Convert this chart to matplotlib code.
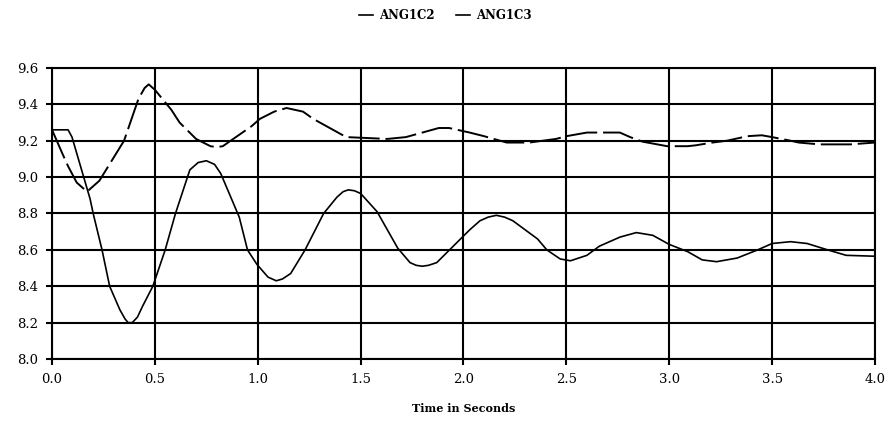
import matplotlib
matplotlib.use("Agg")
import matplotlib.pyplot as plt

# ANG1C2 rotor angle trace (solid)
t_c2 = [0.0, 0.078, 0.097, 0.185, 0.20, 0.243, 0.28, 0.33, 0.355, 0.37, 0.39, 0.415,
        0.44, 0.49, 0.55, 0.60, 0.67, 0.71, 0.75, 0.79, 0.82, 0.88, 0.91, 0.95,
        0.996, 1.05, 1.09, 1.12, 1.16, 1.23, 1.32, 1.385, 1.415, 1.44, 1.47, 1.50,
        1.58, 1.68, 1.74, 1.77, 1.80, 1.83, 1.87, 1.95, 2.03, 2.08, 2.12, 2.16,
        2.20, 2.24, 2.36, 2.405, 2.47, 2.52, 2.60, 2.66, 2.76, 2.84, 2.92, 3.00,
        3.09, 3.16, 3.23, 3.33, 3.43, 3.50, 3.59, 3.67, 3.77, 3.86, 4.0]
ang1c2 = [9.26, 9.26, 9.22, 8.88, 8.80, 8.60, 8.40, 8.27, 8.22, 8.20, 8.20, 8.23,
          8.29, 8.40, 8.60, 8.80, 9.04, 9.08, 9.09, 9.07, 9.02, 8.86, 8.78, 8.60,
          8.52, 8.45, 8.43, 8.44, 8.47, 8.60, 8.80, 8.89, 8.92, 8.93, 8.925, 8.91,
          8.81, 8.61, 8.53, 8.515, 8.51, 8.515, 8.53, 8.62, 8.71, 8.76, 8.78, 8.79,
          8.78, 8.76, 8.66, 8.60, 8.55, 8.54, 8.57, 8.62, 8.67, 8.695, 8.68, 8.63,
          8.59, 8.545, 8.535, 8.555, 8.60, 8.635, 8.645, 8.635, 8.60, 8.57, 8.565]

# ANG1C3 rotor angle trace (dashed)
t_c3 = [0.0, 0.05, 0.078, 0.12, 0.17, 0.23, 0.35, 0.42, 0.45, 0.47, 0.50, 0.58,
        0.62, 0.70, 0.77, 0.80, 0.83, 0.97, 1.01, 1.08, 1.14, 1.22, 1.27, 1.43,
        1.63, 1.72, 1.88, 1.93, 2.03, 2.10, 2.21, 2.32, 2.45, 2.50, 2.60, 2.76,
        2.81, 2.87, 2.99, 3.09, 3.13, 3.21, 3.28, 3.38, 3.45, 3.50, 3.59, 3.63,
        3.73, 3.88, 4.0]
ang1c3 = [9.26, 9.13, 9.06, 8.97, 8.92, 8.98, 9.20, 9.43, 9.49, 9.51, 9.48, 9.37,
          9.30, 9.21, 9.17, 9.165, 9.17, 9.28, 9.32, 9.36, 9.38, 9.36, 9.32, 9.22,
          9.21, 9.22, 9.27, 9.27, 9.245, 9.225, 9.19, 9.19, 9.21, 9.225, 9.245, 9.245,
          9.22, 9.195, 9.17, 9.17, 9.175, 9.19, 9.20, 9.225, 9.23, 9.22, 9.20, 9.19,
          9.18, 9.18, 9.19]

x_ticks = [0.0, 0.5, 1.0, 1.5, 2.0, 2.5, 3.0, 3.5, 4.0]
y_ticks = [8.0, 8.2, 8.4, 8.6, 8.8, 9.0, 9.2, 9.4, 9.6]

plt.rcParams["font.family"] = ["DejaVu Serif"]

fig = plt.figure(figsize=(8.91, 4.22), dpi=100)
ax = fig.add_axes([0.0584, 0.1493, 0.9236, 0.6896])

ax.plot(t_c2, ang1c2, color="black", lw=1.2, label="ANG1C2")
ax.plot(t_c3, ang1c3, color="black", lw=1.4, linestyle=(0, (16, 3)), label="ANG1C3")

ax.set_xlim(0, 4)
ax.set_ylim(8.0, 9.6)
ax.set_xticks(x_ticks)
ax.set_yticks(y_ticks)
ax.set_xticklabels([f"{v:.1f}" for v in x_ticks])
ax.set_yticklabels([f"{v:.1f}" for v in y_ticks])
ax.tick_params(direction="out", length=4, width=1.5, labelsize=9.5, pad=6, colors="black")
ax.grid(True, color="black", lw=1.5)
ax.set_axisbelow(True)
for s in ax.spines.values():
    s.set_linewidth(1.5)
    s.set_color("black")

ax.set_xlabel("Time in Seconds", fontsize=8, fontweight="bold", labelpad=12)

handles, labels = ax.get_legend_handles_labels()
solid = [plt.Line2D([], [], color="black", lw=1.2) for _ in handles]
fig.legend(solid, labels, loc="center", bbox_to_anchor=(0.5, 0.963), ncol=2,
           frameon=False, handlelength=1.2, handletextpad=0.5,
           columnspacing=1.8, prop={"weight": "bold", "size": 8.5})

fig.savefig("out.png", dpi=100)
